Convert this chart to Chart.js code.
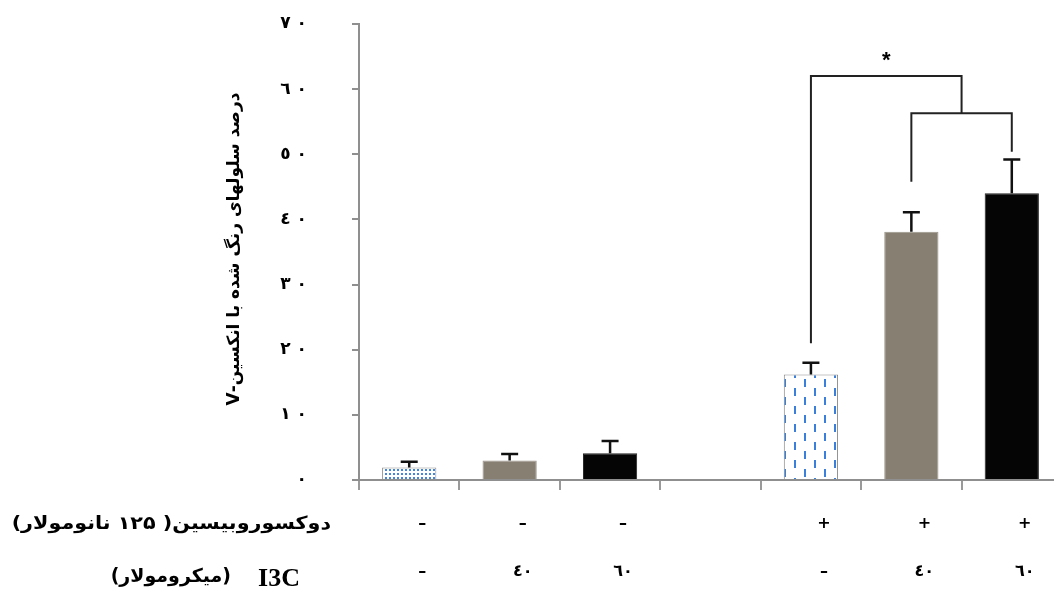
<!DOCTYPE html>
<html><head><meta charset="utf-8">
<script src="https://cdn.jsdelivr.net/npm/chart.js@4/dist/chart.umd.min.js"></script>
<style>html,body{margin:0;padding:0;background:#fff;overflow:hidden}</style>
</head><body>
<canvas id="c" width="1062" height="602"></canvas>
<script>
// ---- data ----
const categories = ['c1', 'c2', 'c3', 'gap', 'c5', 'c6', 'c7'];
const doxRow = ['–', '–', '–', '', '+', '+', '+'];
const i3cRow = ['–', '٤٠', '٦٠', '', '–', '٤٠', '٦٠'];
const values = [1.9, 3.0, 4.1, null, 16.2, 38.1, 44.0];
const errors = [0.9, 1.0, 1.9, null, 1.8, 3.0, 5.2];
const yTickLabels = ['٠', '١٠', '٢٠', '٣٠', '٤٠', '٥٠', '٦٠', '٧٠'];
const yTitle = 'درصد سلولهای رنگ شده با انکسین-V';
const row1Title = 'دوکسوروبیسین( ۱۲۵ نانومولار)';
const row2Unit = '(میکرومولار)';
const row2Name = 'I3C';
const sigOuter = [4, 5.5, 62, 21, 56.3];   // from, to, top, left end, right end
const sigInner = [5, 6, 56.3, 45.8, 50.4];
const sigMark = ['*', 64.6];

// ---- patterns ----
function dashPattern() {
  const c = document.createElement('canvas'); c.width = 20; c.height = 18;
  const g = c.getContext('2d');
  g.fillStyle = '#fff'; g.fillRect(0, 0, 20, 18);
  g.fillStyle = '#3a80da';
  g.fillRect(4, 1, 2, 8); g.fillRect(14, 10, 2, 8);
  return g.createPattern(c, 'repeat');
}
function dotPattern() {
  const c = document.createElement('canvas'); c.width = 4; c.height = 4;
  const g = c.getContext('2d');
  g.fillStyle = '#fff'; g.fillRect(0, 0, 4, 4);
  g.fillStyle = '#4686d8'; g.fillRect(1, 1, 2, 2);
  return g.createPattern(c, 'repeat');
}
const fills = [dotPattern(), '#867f72', '#050505', 'rgba(0,0,0,0)', dashPattern(), '#867f72', '#050505'];
const borders = ['#8a8a8a', '#9c968c', '#222', 'rgba(0,0,0,0)', '#8a8a8a', '#9c968c', '#222'];

const extras = {
  id: 'extras',
  afterDatasetsDraw(chart) {
    const ctx = chart.ctx, xs = chart.scales.x, ys = chart.scales.y;
    const meta = chart.getDatasetMeta(0);
    ctx.save();
    // error bars
    ctx.strokeStyle = '#111'; ctx.lineWidth = 2.5;
    meta.data.forEach((el, i) => {
      if (values[i] == null) return;
      const x = el.x, yt = ys.getPixelForValue(values[i]), ye = ys.getPixelForValue(values[i] + errors[i]);
      ctx.beginPath(); ctx.moveTo(x, yt); ctx.lineTo(x, ye);
      ctx.moveTo(x - 8.5, ye); ctx.lineTo(x + 8.5, ye); ctx.stroke();
    });
    // brackets
    ctx.strokeStyle = '#222'; ctx.lineWidth = 2;
    [sigOuter, sigInner].forEach(b => {
      const x1 = xs.getPixelForValue(b[0]), x2 = xs.getPixelForValue(b[1]);
      const yt = ys.getPixelForValue(b[2]);
      ctx.beginPath();
      ctx.moveTo(x1, ys.getPixelForValue(b[3])); ctx.lineTo(x1, yt); ctx.lineTo(x2, yt);
      ctx.lineTo(x2, ys.getPixelForValue(b[4])); ctx.stroke();
    });
    ctx.fillStyle = '#000'; ctx.font = 'bold 22px "Liberation Sans"';
    ctx.textAlign = 'center'; ctx.textBaseline = 'middle';
    ctx.fillText(sigMark[0], (xs.getPixelForValue(sigOuter[0]) + xs.getPixelForValue(sigOuter[1])) / 2, ys.getPixelForValue(sigMark[1]) + 2);
    // y title
    const ca = chart.chartArea;
    ctx.save();
    ctx.translate(ca.left - 124, (ys.getPixelForValue(0) + ys.getPixelForValue(70)) / 2 - 3);
    ctx.rotate(-Math.PI / 2);
    ctx.direction = 'rtl';
    ctx.font = 'bold 17px "DejaVu Sans"';
    ctx.fillText(yTitle, 0, 0);
    ctx.restore();
    // row titles
    ctx.direction = 'rtl'; ctx.textAlign = 'right';
    ctx.save();
    ctx.translate(ca.left - 28, 524);
    ctx.scale(1.15, 1);
    ctx.font = 'bold 18px "DejaVu Sans"';
    ctx.fillText(row1Title, 0, 0);
    ctx.restore();
    ctx.direction = 'ltr';
    ctx.font = 'bold 26px "Liberation Serif"';
    ctx.fillText(row2Name, ca.left - 59, 579);
    ctx.direction = 'rtl';
    ctx.font = 'bold 19px "DejaVu Sans"';
    ctx.fillText(row2Unit, ca.left - 128, 577);
    ctx.restore();
  }
};

new Chart(document.getElementById('c'), {
  type: 'bar',
  data: {
    labels: categories,
    datasets: [{
      data: values,
      backgroundColor: fills,
      borderColor: borders,
      borderWidth: 1,
      barPercentage: 0.54,
      categoryPercentage: 1
    }]
  },
  options: {
    responsive: false,
    animation: false,
    layout: { padding: { top: 24, left: 0, right: 0, bottom: 0 } },
    plugins: { legend: { display: false }, tooltip: { enabled: false } },
    scales: {
      x: {
        offset: true,
        grid: { offset: true, drawOnChartArea: false, tickLength: 10, color: '#9a9a9a', lineWidth: 2 },
        border: { color: '#8f8f8f', width: 2 },
        ticks: {
          autoSkip: false, maxRotation: 0, labelOffset: 13, padding: 10, color: '#000',
          font: { family: 'DejaVu Sans', size: 16, weight: 'bold', lineHeight: 3 },
          callback: (v, i) => [doxRow[i], i3cRow[i]]
        },
        afterFit(s) { s.height = 122; }
      },
      y: {
        min: 0, max: 70,
        grid: { drawOnChartArea: false, tickLength: 7, color: '#8f8f8f', lineWidth: 2 },
        border: { color: '#8f8f8f', width: 2 },
        ticks: {
          stepSize: 10, padding: 45, color: '#000',
          font: { family: 'DejaVu Sans', size: 17, weight: 'bold' },
          callback: v => yTickLabels[Math.round(v / 10)].split('').join('\u200E \u200E')
        },
        afterFit(s) { s.width = 359; s.paddingTop = 0; s.paddingBottom = 0; }
      }
    }
  },
  plugins: [extras]
});
</script>
</body></html>
